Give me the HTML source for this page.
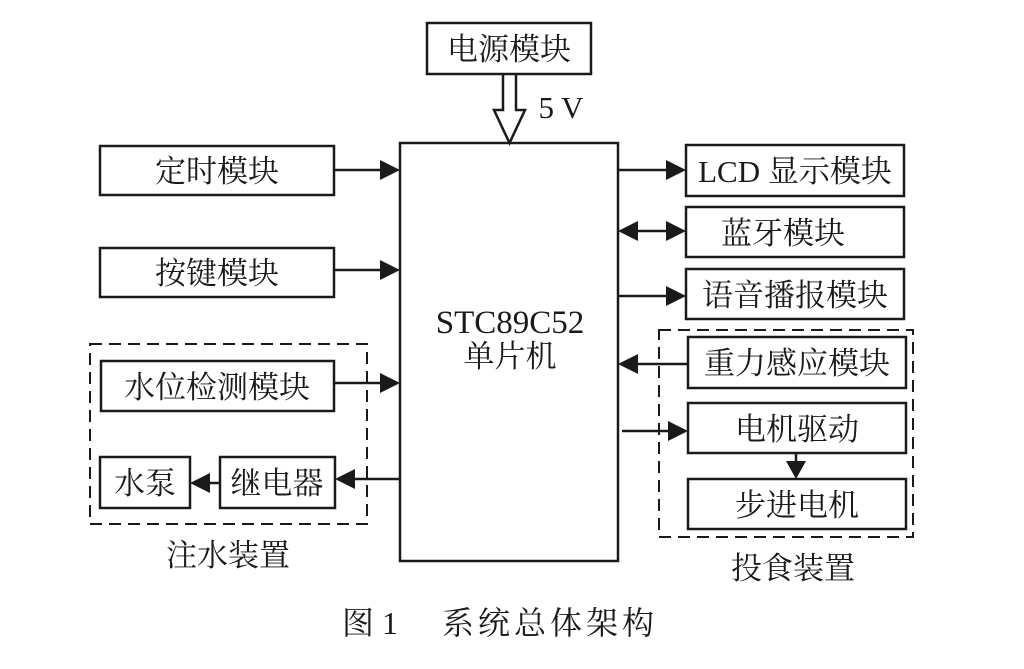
<!DOCTYPE html>
<html><head><meta charset="utf-8"><style>
html,body{margin:0;padding:0;background:#fff;}
svg text{font-family:"Liberation Serif","Noto Serif CJK SC",serif;fill:#1a1a1a;}
</style></head><body>
<svg width="1024" height="664" viewBox="0 0 1024 664" xmlns="http://www.w3.org/2000/svg">
<g stroke="#1a1a1a" stroke-width="2.5" fill="none">
<rect x="400" y="143" width="218" height="418"/>
<rect x="427" y="23" width="164" height="51"/>
<rect x="100" y="146" width="234" height="49"/>
<rect x="100" y="248" width="234" height="49"/>
<rect x="101" y="361" width="233" height="50"/>
<rect x="100" y="457" width="90" height="51"/>
<rect x="220" y="457" width="115" height="51"/>
<rect x="686" y="145" width="218" height="51"/>
<rect x="686" y="207" width="218" height="50"/>
<rect x="686" y="269" width="218" height="50"/>
<rect x="688" y="337" width="218" height="51"/>
<rect x="688" y="403" width="218" height="50"/>
<rect x="688" y="479" width="218" height="50"/>
<rect x="90" y="344" width="277" height="180" stroke-dasharray="12,7" stroke-width="2"/>
<rect x="659" y="330" width="254" height="207" stroke-dasharray="12,7" stroke-width="2"/>
<path d="M503 75 V110 H494 L509.5 143 L525 110 H516 V75" stroke-width="2.5"/>
<line x1="334" y1="170" x2="385" y2="170"/>
<line x1="334" y1="270" x2="385" y2="270"/>
<line x1="334" y1="383" x2="385" y2="383"/>
<line x1="400" y1="479" x2="350" y2="479"/>
<line x1="220" y1="483" x2="205" y2="483"/>
<line x1="618" y1="170" x2="672" y2="170"/>
<line x1="632" y1="231" x2="672" y2="231"/>
<line x1="618" y1="296" x2="672" y2="296"/>
<line x1="688" y1="364" x2="632" y2="364"/>
<line x1="622" y1="431" x2="672" y2="431"/>
<line x1="796" y1="453" x2="796" y2="465"/>
</g>
<g fill="#1a1a1a">
<polygon points="400,170 380,160 380,180"/>
<polygon points="400,270 380,260 380,280"/>
<polygon points="400,383 380,373 380,393"/>
<polygon points="335,479 355,469 355,489"/>
<polygon points="190,483 210,473 210,493"/>
<polygon points="686,170 666,160 666,180"/>
<polygon points="686,231 666,221 666,241"/>
<polygon points="618,231 638,221 638,241"/>
<polygon points="686,296 666,286 666,306"/>
<polygon points="618,364 638,354 638,374"/>
<polygon points="688,431 668,421 668,441"/>
<polygon points="796,479 786,461 806,461"/>
</g>
<g font-size="31" text-anchor="middle">
<text x="509" y="60">电源模块</text>
<text x="217" y="182">定时模块</text>
<text x="217" y="284">按键模块</text>
<text x="217" y="398">水位检测模块</text>
<text x="145" y="494">水泵</text>
<text x="277" y="494">继电器</text>
<text x="795" y="182">LCD 显示模块</text>
<text x="783" y="244">蓝牙模块</text>
<text x="795" y="306">语音播报模块</text>
<text x="797" y="374">重力感应模块</text>
<text x="797" y="440">电机驱动</text>
<text x="797" y="516">步进电机</text>
<text x="510" y="333" font-size="33">STC89C52</text>
<text x="510" y="367">单片机</text>
<text x="228" y="566">注水装置</text>
<text x="793" y="579">投食装置</text>
<text x="561" y="118">5 V</text>
<text x="370" y="634" font-size="32">图 1</text>
<text x="550" y="634" font-size="32" letter-spacing="4">系统总体架构</text>
</g>
</svg>
</body></html>
